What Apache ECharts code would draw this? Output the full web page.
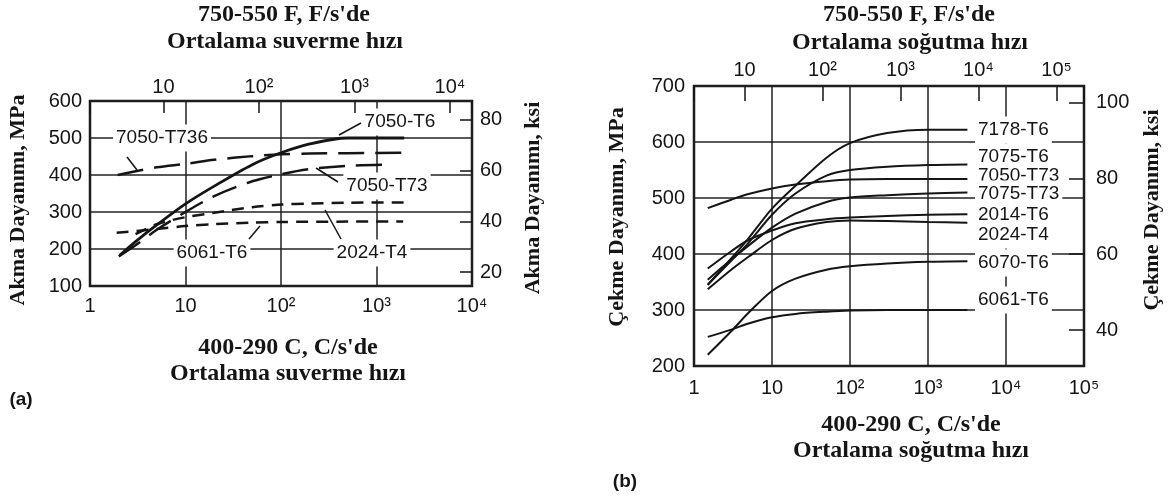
<!DOCTYPE html>
<html>
<head>
<meta charset="UTF-8">
<title>Ortalama suverme / soğutma hızı</title>
<style>
  * { margin: 0; padding: 0; }
  body { background: #fff; }
  #main { width: 1173px; height: 499px; }
</style>
<script src="https://cdn.jsdelivr.net/npm/echarts@6/dist/echarts.min.js"></script>
</head>
<body>
<div id="main"></div>
<script>
// (a) akma dayanimi -- [C/s, MPa]
var a7050T736 = [[1.95,400],[5,421],[10,430],[20,441],[50,451],[100,456],[200,458],[500,459],[1900,460]];
var a7050T6   = [[2.05,183],[3,220],[5,265],[10,322],[20,370],[50,428],[100,460],[200,484],[500,500],[1000,500],[1950,500]];
var a7050T73  = [[2,180],[3,210],[5,252],[10,300],[20,343],[50,383],[100,402],[200,416],[500,425],[1400,428]];
var a2024T4   = [[3,240],[5,267],[10,286],[20,298],[50,313],[100,320],[200,323],[500,325],[2250,326]];
var a6061T6   = [[1.9,244],[5,254],[10,262],[20,267],[50,271],[100,273],[500,274],[1900,274]];

// (b) cekme dayanimi -- [C/s, MPa]
var b7178T6  = [[1.5,345],[3,392],[5,428],[10,481],[20,522],[50,572],[100,598],[300,616],[1000,622],[3200,622]];
var b7075T6  = [[1.5,345],[3,388],[5,420],[10,470],[20,508],[50,540],[100,550],[300,556],[1000,559],[3200,560]];
var b7050T73 = [[1.5,482],[3,497],[5,507],[10,517],[20,524],[50,530],[100,533],[300,534],[1000,534],[3200,534]];
var b7075T73 = [[1.5,354],[3,390],[5,415],[10,447],[20,472],[50,493],[100,501],[300,505],[1000,508],[3200,510]];
var b2014T6  = [[1.5,374],[3,405],[5,425],[10,442],[20,455],[50,462],[100,465],[300,468],[1000,470],[3200,471]];
var b2024T4  = [[1.5,337],[3,372],[5,395],[10,425],[20,445],[50,457],[100,460],[300,459],[1000,457],[3200,456]];
var b6070T6  = [[1.5,220],[3,262],[5,295],[10,334],[20,356],[50,372],[100,378],[300,383],[1000,386],[3200,387]];
var b6061T6  = [[1.5,252],[3,265],[5,276],[10,287],[20,293],[50,297],[100,299],[300,300],[1000,300],[3200,300]];

var namesA = ['7050-T736', '7050-T6', '7050-T73', '2024-T4', '6061-T6'];
var namesB = ['7178-T6', '7075-T6', '7050-T73', '7075-T73', '2014-T6', '2024-T4', '6070-T6', '6061-T6'];
var ksiTicksA = [20, 40, 60, 80];
var ksiTicksB = [40, 60, 80, 100];

var INK = '#151515';
var SANS = '"Liberation Sans", Arial, sans-serif';
var SERIF = '"Liberation Serif", "Times New Roman", serif';
var sup = { 2: '\u00b2', 3: '\u00b3', 4: '\u2074', 5: '\u2075' };

function powLabel(v) {
  var l = Math.log10(v), e = Math.round(l);
  if (Math.abs(l - e) > 0.01) return '';
  if (e === 0) return '1';
  if (e === 1) return '10';
  return '10' + sup[e];
}

var tickFont = { color: INK, fontFamily: SANS, fontSize: 20 };

function bottomAxis(grid, max, margin) {
  return {
    type: 'log', logBase: 10, gridIndex: grid, min: 1, max: max, position: 'bottom',
    axisLine: { show: false }, axisTick: { show: false },
    axisLabel: Object.assign({ margin: margin, formatter: powLabel, showMinLabel: true, showMaxLabel: true }, tickFont),
    splitLine: { show: true, lineStyle: { color: '#222', width: 1.5 } }
  };
}
function topAxis(grid, min, max, margin, tickLen) {
  return {
    type: 'log', logBase: 10, gridIndex: grid, min: min, max: max, position: 'top',
    axisLine: { show: false },
    axisTick: { show: true, inside: true, length: tickLen, lineStyle: { color: INK, width: 1.5 } },
    axisLabel: Object.assign({ margin: margin, formatter: powLabel }, tickFont),
    splitLine: { show: false }
  };
}
function leftAxis(grid, min, max, margin) {
  return {
    type: 'value', gridIndex: grid, min: min, max: max, interval: 100, position: 'left',
    axisLine: { show: false }, axisTick: { show: false },
    axisLabel: Object.assign({ margin: margin }, tickFont),
    splitLine: { show: true, lineStyle: { color: '#222', width: 1.5 } }
  };
}
function rightAxis(grid, min, max, ticks, margin, tickLen) {
  return {
    type: 'value', gridIndex: grid, min: min, max: max, position: 'right',
    axisLine: { show: false },
    axisTick: { show: true, inside: true, length: tickLen, customValues: ticks, lineStyle: { color: INK, width: 1.5 } },
    axisLabel: Object.assign({ margin: margin, customValues: ticks }, tickFont),
    splitLine: { show: false }
  };
}

function curve(name, data, xi, yi, width, dash) {
  return {
    type: 'line', name: name, data: data, xAxisIndex: xi, yAxisIndex: yi,
    showSymbol: false, symbol: 'none', smooth: 0.3, silent: true,
    lineStyle: { color: INK, width: width, type: dash || 'solid' }
  };
}

function txt(x, y, s, opt) {
  opt = opt || {};
  return {
    type: 'text', x: x, y: y, z: 50, rotation: opt.rot || 0,
    style: {
      text: s, fill: INK,
      font: (opt.weight || 'normal') + ' ' + (opt.size || 19) + 'px ' + (opt.family || SANS),
      align: opt.align || 'center', verticalAlign: 'middle',
      lineHeight: opt.lh || 27,
      backgroundColor: opt.bg || null, padding: opt.bg ? [0, 3] : 0
    }
  };
}
function leader(x1, y1, x2, y2) {
  return { type: 'line', z: 50, shape: { x1: x1, y1: y1, x2: x2, y2: y2 }, style: { stroke: INK, lineWidth: 1.5 } };
}

var chart = echarts.init(document.getElementById('main'), null, { renderer: 'canvas' });

var option = {
  backgroundColor: '#fff',
  animation: false,
  grid: [
    { left: 90, top: 101, width: 382, height: 185, show: true, borderColor: INK, borderWidth: 2.5, backgroundColor: 'transparent' },
    { left: 694, top: 86, width: 390, height: 280, show: true, borderColor: INK, borderWidth: 2.5, backgroundColor: 'transparent' }
  ],
  xAxis: [
    bottomAxis(0, 10000, 10),
    topAxis(0, 1.7, 17000, 4, 12),
    bottomAxis(1, 100000, 12),
    topAxis(1, 2.25, 225000, 6, 15)
  ],
  yAxis: [
    leftAxis(0, 100, 600, 8),
    rightAxis(0, 14.5, 87.45, ksiTicksA, 8, 12),
    leftAxis(1, 200, 700, 9),
    rightAxis(1, 30.5, 104.4, ksiTicksB, 12, 15)
  ],
  series: [
    curve(namesA[0], a7050T736, 0, 0, 2.5, [26, 11]),
    curve(namesA[1], a7050T6, 0, 0, 2.8),
    curve(namesA[2], a7050T73, 0, 0, 2.5, [26, 11]),
    curve(namesA[3], a2024T4, 0, 0, 2.5, [12, 8]),
    curve(namesA[4], a6061T6, 0, 0, 2.5, [12, 8]),
    curve(namesB[0], b7178T6, 2, 2, 2),
    curve(namesB[1], b7075T6, 2, 2, 2),
    curve(namesB[2], b7050T73, 2, 2, 2),
    curve(namesB[3], b7075T73, 2, 2, 2),
    curve(namesB[4], b2014T6, 2, 2, 2),
    curve(namesB[5], b2024T4, 2, 2, 2),
    curve(namesB[6], b6070T6, 2, 2, 2),
    curve(namesB[7], b6061T6, 2, 2, 2)
  ],
  graphic: [
    // (a) captions
    txt(284, 15, '750-550 F, F/s\'de', { family: SERIF, weight: 'bold', size: 24 }),
    txt(285, 42, 'Ortalama suverme hızı', { family: SERIF, weight: 'bold', size: 24 }),
    txt(288, 348, '400-290 C, C/s\'de', { family: SERIF, weight: 'bold', size: 24 }),
    txt(288, 374, 'Ortalama suverme hızı', { family: SERIF, weight: 'bold', size: 24 }),
    txt(18, 200, 'Akma Dayanımı, MPa', { family: SERIF, weight: 'bold', size: 22, rot: Math.PI / 2 }),
    txt(533, 198, 'Akma Dayanımı, ksi', { family: SERIF, weight: 'bold', size: 22, rot: Math.PI / 2 }),
    txt(21, 400, '(a)', { weight: 'bold', size: 19 }),
    // (a) curve labels
    txt(162, 138, namesA[0], { bg: '#fff' }),
    leader(127, 157, 137, 170),
    txt(400, 122, namesA[1], { bg: '#fff' }),
    leader(361, 123, 339, 135),
    txt(387, 186, namesA[2], { bg: '#fff' }),
    leader(338, 182, 316, 168),
    txt(372, 253, namesA[3], { bg: '#fff' }),
    leader(341, 239, 325, 210),
    txt(212, 253, namesA[4], { bg: '#fff' }),
    leader(249, 239, 260, 226),
    // (b) captions
    txt(909, 15, '750-550 F, F/s\'de', { family: SERIF, weight: 'bold', size: 24 }),
    txt(910, 43, 'Ortalama soğutma hızı', { family: SERIF, weight: 'bold', size: 24 }),
    txt(911, 425, '400-290 C, C/s\'de', { family: SERIF, weight: 'bold', size: 24 }),
    txt(911, 451, 'Ortalama soğutma hızı', { family: SERIF, weight: 'bold', size: 24 }),
    txt(617, 217, 'Çekme Dayanımı, MPa', { family: SERIF, weight: 'bold', size: 22, rot: Math.PI / 2 }),
    txt(1152, 210, 'Çekme Dayanımı, ksi', { family: SERIF, weight: 'bold', size: 22, rot: Math.PI / 2 }),
    txt(625, 482, '(b)', { weight: 'bold', size: 19 }),
    // (b) curve labels
    txt(975, 130, namesB[0], { align: 'left', bg: '#fff' }),
    txt(975, 157, namesB[1], { align: 'left', bg: '#fff' }),
    txt(975, 176, namesB[2], { align: 'left', bg: '#fff' }),
    txt(975, 194, namesB[3], { align: 'left', bg: '#fff' }),
    txt(975, 215, namesB[4], { align: 'left', bg: '#fff' }),
    txt(975, 235, namesB[5], { align: 'left', bg: '#fff' }),
    txt(975, 263, namesB[6], { align: 'left', bg: '#fff' }),
    txt(975, 300, namesB[7], { align: 'left', bg: '#fff' })
  ]
};
chart.setOption(option);
</script>
</body>
</html>
